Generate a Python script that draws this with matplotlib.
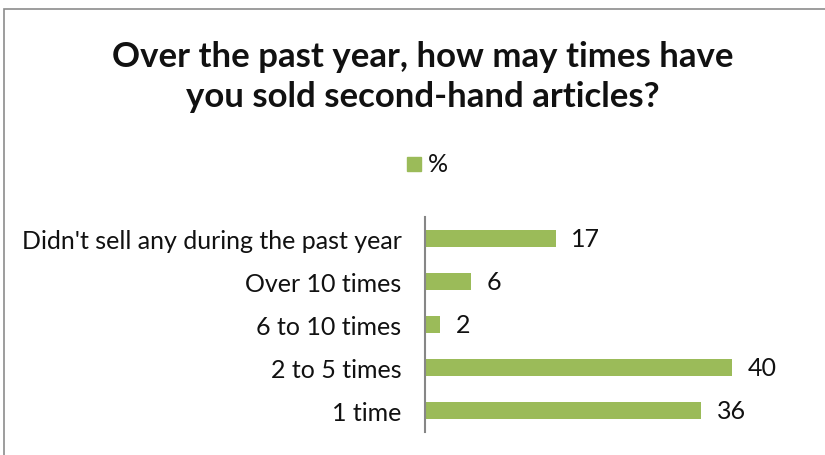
import matplotlib
matplotlib.use("Agg")
import matplotlib.pyplot as plt
from matplotlib.patches import Rectangle

plt.rcParams["font.family"] = ["Lato", "DejaVu Sans"]

# categories listed bottom to top
categories = ["1 time", "2 to 5 times", "6 to 10 times", "Over 10 times",
              "Didn't sell any during the past year"]
values = [36, 40, 2, 6, 17]
series_name = "%"
title = "Over the past year, how may times have\nyou sold second-hand articles?"

BAR_COLOR = "#9BBB59"

fig = plt.figure(figsize=(8.25, 4.56), dpi=100)

# chart-area border (Excel style, only top/left visible in the crop)
fig.patches.append(Rectangle((4 / 825, -0.1), 1.2, 1 - 10 / 456 + 0.1,
                             transform=fig.transFigure, fill=False,
                             edgecolor="#8c8c8c", linewidth=1.2))

ax = fig.add_axes([425 / 825, 23 / 456, 384 / 825, 215 / 456])
bars = ax.barh(range(len(categories)), values, height=0.38, color=BAR_COLOR)
ax.bar_label(bars, padding=11, fontsize=18, color="#111111")

ax.set_xlim(0, 50)
ax.set_ylim(-0.5, len(categories) - 0.5)
ax.set_yticks(range(len(categories)))
ax.set_yticklabels(categories, fontsize=18, color="#111111")
ax.tick_params(axis="y", length=0, pad=17)
ax.set_xticks([])
for side in ["top", "right", "bottom"]:
    ax.spines[side].set_visible(False)
ax.spines["left"].set_color("#868686")
ax.spines["left"].set_linewidth(1.5)

fig.text(0.513, 0.832, title, ha="center", va="center", fontsize=25,
         fontweight="bold", linespacing=1.3, color="#111111")

# legend
fig.patches.append(Rectangle((407 / 825, 1 - 172 / 456), 14 / 825, 14 / 456,
                             transform=fig.transFigure, color=BAR_COLOR))
fig.text(428 / 825, 1 - 165 / 456, series_name, ha="left", va="center",
         fontsize=18, color="#111111")

fig.savefig("out.png", dpi=100)
